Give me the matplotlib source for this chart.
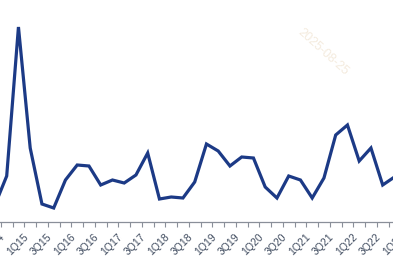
import numpy as np
import matplotlib
matplotlib.use("Agg")
import matplotlib.pyplot as plt

plt.rcParams['font.family'] = ['Liberation Sans', 'DejaVu Sans']

# quarters (2Q14 .. 4Q22), the picture only shows a slice of them
quarters = ["2Q14", "3Q14", "4Q14",
            "1Q15", "2Q15", "3Q15", "4Q15",
            "1Q16", "2Q16", "3Q16", "4Q16",
            "1Q17", "2Q17", "3Q17", "4Q17",
            "1Q18", "2Q18", "3Q18", "4Q18",
            "1Q19", "2Q19", "3Q19", "4Q19",
            "1Q20", "2Q20", "3Q20", "4Q20",
            "1Q21", "2Q21", "3Q21", "4Q21",
            "1Q22", "2Q22", "3Q22", "4Q22"]
valores = [1.7, 4.6, 19.5,
           7.4, 1.8, 1.4, 4.2,
           5.7, 5.6, 3.7, 4.2,
           3.9, 4.7, 6.9, 2.3,
           2.5, 2.4, 4.0, 7.8,
           7.1, 5.6, 6.5, 6.4,
           3.5, 2.4, 4.6, 4.2,
           2.4, 4.4, 8.7, 9.7,
           6.1, 7.4, 3.7, 4.5]
# only every second quarter gets a label (3Q, 1Q)
etiquetas = ["3Q14", "1Q15", "3Q15", "1Q16", "3Q16", "1Q17", "3Q17", "1Q18",
             "3Q18", "1Q19", "3Q19", "1Q20", "3Q20", "1Q21", "3Q21", "1Q22",
             "3Q22", "1Q23"]

x = np.arange(len(quarters))
pos_etiquetas = np.arange(1, 1 + 2 * len(etiquetas), 2)

# el gráfico está recortado: los ejes salen un poco de la figura por los lados
px_por_q = 11.75
x0 = -5.05  # pixel del primer trimestre
izq, der = -0.5, 35.5
ax_left = (x0 + px_por_q * izq) / 393
ax_width = px_por_q * (der - izq) / 393

fig = plt.figure(figsize=(3.93, 2.67), dpi=100)
ax = fig.add_axes([ax_left, 45 / 267, ax_width, 222 / 267])

ax.plot(x, valores, color="#1c3a86", lw=2.3, solid_joinstyle="miter")

for lado in ["top", "left", "right"]:
    ax.spines[lado].set_visible(False)
ax.spines["bottom"].set_color("#8a8f99")
ax.spines["bottom"].set_linewidth(0.9)
ax.set_yticks([])

# marcas entre categorías, etiquetas en el centro
ax.set_xticks(np.arange(-0.5, len(quarters) + 1.5, 1))
ax.set_xticklabels([])
ax.tick_params(axis="x", which="major", length=3.5, width=0.8,
               color="#8a8f99", direction="out")
ax.set_xticks(pos_etiquetas, minor=True)
ax.set_xticklabels(etiquetas, minor=True, rotation=45, ha="right",
                   fontsize=7.5, color="#3e4a5e")
ax.tick_params(axis="x", which="minor", length=0, pad=7)

ax.set_xlim(izq, der)
ax.set_ylim(0, 22.2)

# marca de agua casi invisible
fig.text(343 / 393, 1 - 78 / 267, "2025-08-25", rotation=-42,
         ha="right", va="bottom", fontsize=9, color="#f4ebde",
         rotation_mode="anchor")

fig.savefig("out.png", dpi=100)
